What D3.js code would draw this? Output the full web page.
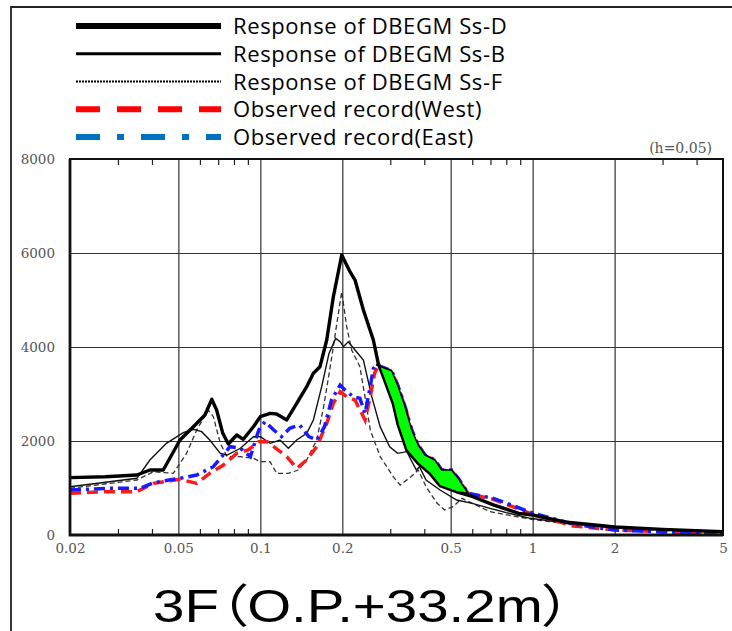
<!DOCTYPE html>
<html>
<head>
<meta charset="utf-8">
<script src="https://cdn.jsdelivr.net/npm/d3@7"></script>
<style>
  body { margin: 0; background: #fff; }
  svg { display: block; }
</style>
</head>
<body>
<div id="chart"></div>
<script>
// periods (s) and acceleration values
var ssdPeriod = [0.02, 0.027, 0.0352, 0.0393, 0.044, 0.0507, 0.0592, 0.0626, 0.0663, 0.0691, 0.0728, 0.0763, 0.0819, 0.0866, 0.0943, 0.1, 0.1086, 0.1148, 0.125, 0.136, 0.148, 0.1566, 0.1656, 0.1753, 0.1854, 0.199, 0.2134, 0.2227, 0.239, 0.26, 0.271, 0.283, 0.3076, 0.321, 0.345, 0.38, 0.42, 0.457, 0.526, 0.6, 0.717, 0.89, 1.0, 1.34, 2, 3, 5];
var ssdValue  = [1220, 1240, 1277, 1383, 1383, 2021, 2411, 2553, 2887, 2660, 2163, 1936, 2128, 2036, 2304, 2517, 2589, 2574, 2447, 2802, 3156, 3440, 3581, 4149, 5070, 5957, 5602, 5425, 4787, 4149, 3652, 3369, 2800, 2340, 1809, 1525, 1312, 1050, 920, 820, 640, 461, 426, 270, 170, 120, 70];

var ssbPeriod = [0.02, 0.0352, 0.0393, 0.0452, 0.0521, 0.0568, 0.0609, 0.0652, 0.0713, 0.0755, 0.0845, 0.0943, 0.1, 0.1086, 0.1181, 0.1267, 0.136, 0.148, 0.1566, 0.168, 0.1787, 0.1891, 0.1964, 0.2019, 0.2103, 0.2227, 0.239, 0.2565, 0.2756, 0.2985, 0.3193, 0.345, 0.374, 0.384, 0.406, 0.457, 0.526, 0.6, 0.697, 0.8, 0.98, 1.34, 2, 3, 5];
var ssbValue  = [1028, 1206, 1596, 1951, 2177, 2249, 2198, 2021, 1738, 1702, 1845, 2092, 2092, 1951, 2021, 1845, 2021, 2163, 2447, 3156, 3865, 4184, 4113, 4007, 4113, 3936, 3723, 2943, 2300, 1879, 1738, 1773, 1383, 1453, 1170, 957, 745, 674, 568, 475, 355, 250, 160, 110, 65];

var ssfPeriod = [0.02, 0.0352, 0.0405, 0.0479, 0.0536, 0.0584, 0.0644, 0.0672, 0.0713, 0.0755, 0.0845, 0.0943, 0.1, 0.1086, 0.1148, 0.1267, 0.1378, 0.148, 0.1611, 0.1708, 0.1806, 0.191, 0.199, 0.2075, 0.2165, 0.232, 0.2434, 0.2533, 0.2756, 0.3076, 0.3262, 0.3575, 0.38, 0.406, 0.446, 0.475, 0.51, 0.55, 0.6, 0.697, 0.874, 1.0, 1.34, 2, 3, 5];
var ssfValue  = [993, 1170, 1347, 1312, 1738, 2234, 2660, 2517, 1951, 1666, 1666, 1632, 1560, 1560, 1312, 1312, 1383, 1596, 2021, 2730, 3581, 4504, 5177, 4432, 3936, 3581, 2872, 2234, 1666, 1240, 1064, 1240, 1383, 1028, 674, 532, 603, 780, 674, 496, 390, 330, 240, 150, 100, 60];

var westPeriod = [0.02, 0.0273, 0.0352, 0.0405, 0.0507, 0.0584, 0.0652, 0.0732, 0.0819, 0.0902, 0.0987, 0.106, 0.112, 0.125, 0.136, 0.148, 0.1611, 0.1753, 0.1854, 0.1964, 0.2075, 0.2227, 0.2424, 0.2533, 0.263, 0.271, 0.3037, 0.321, 0.34, 0.3597, 0.38, 0.4025, 0.438, 0.4634, 0.504, 0.533, 0.58, 0.717, 1.0, 1.41, 2, 2.94, 5];
var westValue  = [887, 922, 922, 1099, 1185, 1099, 1312, 1489, 1738, 1809, 1985, 1985, 1879, 1666, 1419, 1596, 1879, 2376, 2802, 3049, 2943, 2872, 2447, 2943, 3450, 3600, 3480, 3140, 2720, 2220, 1900, 1690, 1580, 1370, 1370, 1190, 880, 760, 440, 191, 110, 70, 45];

var eastPeriod = [0.02, 0.0273, 0.0361, 0.0405, 0.0507, 0.0584, 0.0672, 0.0774, 0.0845, 0.0919, 0.0987, 0.104, 0.112, 0.1197, 0.1282, 0.1394, 0.1506, 0.1611, 0.172, 0.1826, 0.1964, 0.2045, 0.2193, 0.232, 0.2424, 0.2533, 0.26, 0.267, 0.3037, 0.321, 0.34, 0.3597, 0.38, 0.4025, 0.438, 0.4634, 0.504, 0.533, 0.58, 0.717, 1.0, 1.41, 2, 2.94, 5];
var eastValue  = [957, 993, 993, 1113, 1206, 1277, 1453, 1879, 1845, 1666, 2234, 2411, 2234, 2092, 2270, 2340, 2092, 2021, 2304, 2872, 3191, 3085, 2943, 2908, 2589, 3156, 3547, 3617, 3496, 3156, 2730, 2234, 1915, 1702, 1596, 1383, 1383, 1206, 887, 780, 468, 230, 106, 70, 49];

// period range where the observed record exceeds Ss-D (green)
var exceedRange = [0.267, 0.58];

var gridPeriods = [0.05, 0.1, 0.2, 0.5, 1, 2];
var minorPeriods = [0.03, 0.04, 0.06, 0.07, 0.08, 0.09, 0.3, 0.4, 0.6, 0.7, 0.8, 0.9, 3, 4];
var xLabels = [0.02, 0.05, 0.1, 0.2, 0.5, 1, 2, 5];
var yTicks = [0, 2000, 4000, 6000, 8000];

var legendNames = ["Response of DBEGM Ss-D", "Response of DBEGM Ss-B", "Response of DBEGM Ss-F",
                   "Observed record(West)", "Observed record(East)"];
var title = "3F\uFF08O.P.+33.2m\uFF09";

var W = 732, H = 631;
var margin = {top: 159, right: 9, bottom: 96, left: 70},
    width = W - margin.left - margin.right,
    height = H - margin.top - margin.bottom;

var svg = d3.select("#chart").append("svg")
    .attr("width", W)
    .attr("height", H);

// outer frame (top and left only, picture is cropped)
svg.append("path")
    .attr("d", "M11,631 L11,7 L732,7")
    .attr("fill", "none")
    .attr("stroke", "#222")
    .attr("stroke-width", 1.8);

var g = svg.append("g")
    .attr("transform", "translate(" + margin.left + "," + margin.top + ")");

var x = d3.scaleLog().domain([0.02, 5]).range([0, width]);
var y = d3.scaleLinear().domain([0, 8000]).range([height, 0]);

// grid
g.append("g")
    .attr("transform", "translate(0," + height + ")")
    .call(d3.axisBottom(x).tickValues(gridPeriods).tickSize(-height).tickFormat(""))
    .call(function(a) { a.select(".domain").remove(); })
    .selectAll("line").attr("stroke", "#333").attr("stroke-width", 1.2);
g.append("g")
    .call(d3.axisLeft(y).tickValues([2000, 4000, 6000]).tickSize(-width).tickFormat(""))
    .call(function(a) { a.select(".domain").remove(); })
    .selectAll("line").attr("stroke", "#333").attr("stroke-width", 1.2);

// minor ticks, inward at top and bottom
g.append("g")
    .attr("transform", "translate(0," + height + ")")
    .call(d3.axisBottom(x).tickValues(minorPeriods).tickSize(-6).tickFormat(""))
    .call(function(a) { a.select(".domain").remove(); })
    .selectAll("line").attr("stroke", "#222").attr("stroke-width", 1.2);
g.append("g")
    .call(d3.axisTop(x).tickValues(minorPeriods).tickSize(-6).tickFormat(""))
    .call(function(a) { a.select(".domain").remove(); })
    .selectAll("line").attr("stroke", "#222").attr("stroke-width", 1.2);

// tick labels
var xa = g.append("g")
    .attr("transform", "translate(0," + height + ")")
    .call(d3.axisBottom(x).tickValues(xLabels).tickSize(0).tickPadding(8).tickFormat(d3.format("~g")));
xa.select(".domain").remove();
xa.selectAll("text")
    .attr("font-family", "'DejaVu Serif', serif")
    .attr("font-size", 13.5)
    .attr("fill", "#555");

var ya = g.append("g")
    .call(d3.axisLeft(y).tickValues(yTicks).tickSize(0).tickPadding(15).tickFormat(d3.format("d")));
ya.select(".domain").remove();
ya.selectAll("text")
    .attr("font-family", "'DejaVu Serif', serif")
    .attr("font-size", 13.5)
    .attr("fill", "#555");

function pts(ps, vs) {
  return ps.map(function(p, i) { return {p: p, v: vs[i]}; });
}
var line = d3.line()
    .x(function(d) { return x(d.p); })
    .y(function(d) { return y(d.v); });

var ssd = pts(ssdPeriod, ssdValue),
    ssb = pts(ssbPeriod, ssbValue),
    ssf = pts(ssfPeriod, ssfValue),
    west = pts(westPeriod, westValue),
    east = pts(eastPeriod, eastValue);

var plot = g.append("g");
plot.append("path").datum(ssf).attr("d", line)
    .attr("fill", "none").attr("stroke", "#333").attr("stroke-width", 1.3)
    .attr("stroke-dasharray", "5,3");
plot.append("path").datum(ssb).attr("d", line)
    .attr("fill", "none").attr("stroke", "#111").attr("stroke-width", 1.4);
plot.append("path").datum(west).attr("d", line)
    .attr("fill", "none").attr("stroke", "#ff1a1a").attr("stroke-width", 3.5)
    .attr("stroke-dasharray", "11,6");
plot.append("path").datum(east).attr("d", line)
    .attr("fill", "none").attr("stroke", "#1a1aff").attr("stroke-width", 3.5)
    .attr("stroke-dasharray", "11,5,3,5");
plot.append("path").datum(ssd).attr("d", line)
    .attr("fill", "none").attr("stroke", "#000").attr("stroke-width", 3.4)
    .attr("stroke-linejoin", "round");

// exceedance area: observed (upper) back along Ss-D (lower)
var upper = east.filter(function(d) { return d.p >= exceedRange[0] && d.p <= exceedRange[1]; });
var lower = ssd.filter(function(d) { return d.p > exceedRange[0] && d.p < exceedRange[1]; }).reverse();
plot.append("path").datum(upper.concat(lower)).attr("d", function(d) { return line(d) + "Z"; })
    .attr("fill", "#00ff00").attr("stroke", "#000").attr("stroke-width", 1.5)
    .attr("stroke-linejoin", "round");

// frame
g.append("rect")
    .attr("width", width).attr("height", height)
    .attr("fill", "none").attr("stroke", "#111").attr("stroke-width", 2);
g.append("path")
    .attr("d", "M0,0 V" + height + " H" + width)
    .attr("fill", "none").attr("stroke", "#111").attr("stroke-width", 2.8);

svg.append("text")
    .attr("x", 712).attr("y", 153)
    .attr("text-anchor", "end")
    .attr("font-family", "'DejaVu Serif', serif")
    .attr("font-size", 14)
    .attr("fill", "#555")
    .text("(h=0.05)");

// legend
var legendStyles = [
  {color: "#000", width: 6, dash: null},
  {color: "#000", width: 2.8, dash: null},
  {color: "#000", width: 1.8, dash: "2,1"},
  {color: "#ff0000", width: 6, dash: "24,17"},
  {color: "#0070c0", width: 6, dash: "24,17,7,17"}
];
var legendY = d3.scalePoint().domain(legendNames).range([26, 137]);
var lg = svg.append("g");
var item = lg.selectAll("g").data(legendNames).enter().append("g")
    .attr("transform", function(d) { return "translate(0," + legendY(d) + ")"; });
item.append("line")
    .attr("x1", 76).attr("x2", 221)
    .attr("stroke", function(d, i) { return legendStyles[i].color; })
    .attr("stroke-width", function(d, i) { return legendStyles[i].width; })
    .attr("stroke-dasharray", function(d, i) { return legendStyles[i].dash; });
item.append("text")
    .attr("x", 233).attr("y", 8)
    .attr("font-family", "'Open Sans', sans-serif")
    .attr("font-size", 22)
    .attr("letter-spacing", 0.6)
    .attr("fill", "#000")
    .text(function(d) { return d; });

svg.append("text")
    .attr("x", 153).attr("y", 622)
    .attr("textLength", 418)
    .attr("lengthAdjust", "spacingAndGlyphs")
    .style("font-feature-settings", "'palt'")
    .attr("font-family", "'Liberation Sans', Arial, 'Noto Sans CJK JP', sans-serif")
    .attr("font-size", 46)
    .attr("fill", "#000")
    .text(title);
</script>
</body>
</html>
